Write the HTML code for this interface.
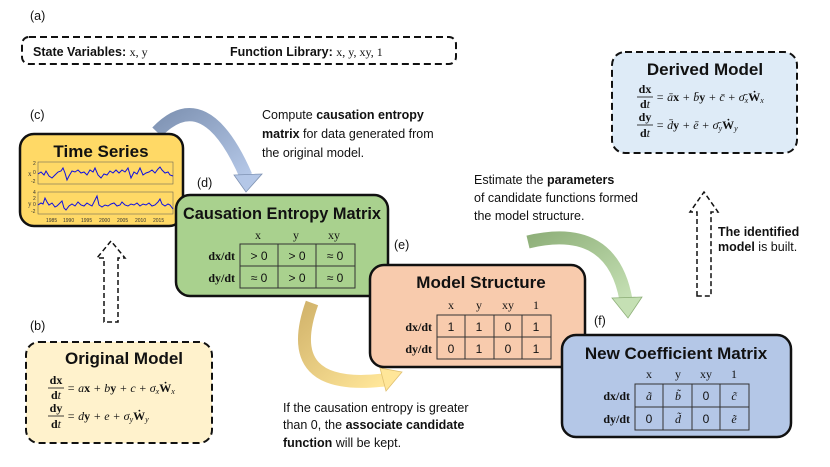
<!DOCTYPE html>
<html><head><meta charset="utf-8"><style>
body{margin:0;background:#fff}
svg{display:block;font-family:"Liberation Sans",sans-serif}
.t{font-size:12.5px;fill:#111}
.h{font-size:17px;font-weight:bold;fill:#111}
.m{font-family:"Liberation Serif",serif;font-size:12px;fill:#111}
.c{font-size:12px;fill:#111;text-anchor:middle}
.mc{font-family:"Liberation Serif",serif;font-size:12px;fill:#111;text-anchor:middle}
</style></head><body>
<svg width="830" height="467" viewBox="0 0 830 467">
<defs>
<linearGradient id="gb" x1="0" y1="0" x2="1" y2="1"><stop offset="0" stop-color="#7f93b3"/><stop offset="1" stop-color="#b4c7e7"/></linearGradient>
<linearGradient id="gg" x1="0" y1="0" x2="1" y2="1"><stop offset="0" stop-color="#8fb07a"/><stop offset="1" stop-color="#c5e0b4"/></linearGradient>
<linearGradient id="gy" x1="0" y1="0" x2="1" y2="1"><stop offset="0" stop-color="#d2b46c"/><stop offset="1" stop-color="#ffe699"/></linearGradient>
</defs>
<text x="30" y="20" class="t">(a)</text>
<rect x="22" y="37" width="434" height="27" rx="7" fill="#fff" stroke="#111" stroke-width="2" stroke-dasharray="7,4"/>
<text x="33" y="56" class="t" font-weight="bold">State Variables: <tspan class="m" font-weight="normal" font-size="13">x, y</tspan></text>
<text x="230" y="56" class="t" font-weight="bold">Function Library: <tspan class="m" font-weight="normal" font-size="13">x, y, xy, 1</tspan></text>

<path d="M157,132 Q205,82 246,176" fill="none" stroke="url(#gb)" stroke-width="13"/>
<polygon points="234,175 262,174 246,192" fill="#b4c7e7" stroke="#7f93b3" stroke-width="0.8"/>
<path d="M528,242 Q612,222 626,300" fill="none" stroke="url(#gg)" stroke-width="13"/>
<polygon points="612,298 642,297 628,318" fill="#c5e0b4" stroke="#8fb07a" stroke-width="0.8"/>
<path d="M312,303 Q280,392 384,380" fill="none" stroke="url(#gy)" stroke-width="13"/>
<polygon points="380,368 402,372 386,391" fill="#ffe699" stroke="#e0c070" stroke-width="0.8"/>

<text x="30" y="119" class="t">(c)</text>
<rect x="20" y="134" width="163" height="92" rx="14" fill="#ffd966" stroke="#111" stroke-width="2.5"/>
<text x="101" y="157" class="h" text-anchor="middle">Time Series</text>
<g font-size="5" fill="#333" font-family="Liberation Sans">
<rect x="38" y="162" width="135" height="22" fill="none" stroke="#555" stroke-width="0.5"/>
<rect x="38" y="192" width="135" height="22" fill="none" stroke="#555" stroke-width="0.5"/>
<text x="28" y="176" font-size="7" font-family="Liberation Serif">x</text>
<text x="28" y="206" font-size="7" font-family="Liberation Serif">y</text>
<text x="33" y="165">2</text><text x="33" y="174">0</text><text x="31" y="183">-2</text>
<text x="33" y="194">4</text><text x="33" y="200">2</text><text x="33" y="206">0</text><text x="31" y="213">-2</text>
<text x="46" y="222">1985</text><text x="63" y="222">1990</text><text x="81" y="222">1995</text><text x="99" y="222">2000</text><text x="117" y="222">2005</text><text x="135" y="222">2010</text><text x="153" y="222">2015</text>
</g>
<polyline fill="none" stroke="#1010e0" stroke-width="1" points="38,174 41,172 44,175 46,171 49,176 52,178 55,175 58,172 61,171 63,168 65,173 67,180 69,176 72,171 75,172 78,170 81,173 84,172 87,175 90,170 93,172 95,168 98,175 101,178 104,174 107,175 110,171 113,173 116,170 119,173 122,170 125,172 128,168 131,178 134,172 137,174 140,168 143,175 146,173 149,172 152,170 155,173 158,169 160,167 162,170 165,173 168,172 170,175 173,176"/>
<polyline fill="none" stroke="#1010e0" stroke-width="1" points="38,205 41,203 43,204 45,198 47,202 49,205 52,203 55,207 57,206 60,203 62,201 64,208 66,210 69,206 72,204 75,206 78,202 81,205 84,206 87,203 90,205 92,206 95,200 97,196 99,205 102,207 105,205 108,206 111,204 114,203 117,206 120,205 122,202 125,205 128,206 131,204 134,205 137,203 140,206 143,204 146,205 149,203 152,206 155,205 158,202 160,199 162,204 165,206 168,204 170,205 173,209"/>

<text x="197" y="187" class="t">(d)</text>
<rect x="176" y="195" width="212" height="101" rx="14" fill="#a9d18e" stroke="#111" stroke-width="2.5"/>
<text x="282" y="219" class="h" text-anchor="middle" font-size="16" textLength="198" lengthAdjust="spacingAndGlyphs">Causation Entropy Matrix</text>
<text x="258" y="239" class="mc">x</text><text x="296" y="239" class="mc">y</text><text x="334" y="239" class="mc">xy</text>
<text x="235" y="260" class="m" text-anchor="end" font-weight="bold">dx/dt</text>
<text x="235" y="282" class="m" text-anchor="end" font-weight="bold">dy/dt</text>
<g fill="none" stroke="#333" stroke-width="1"><rect x="240" y="244" width="115" height="44"/><line x1="240" y1="266" x2="355" y2="266"/><line x1="278" y1="244" x2="278" y2="288"/><line x1="316" y1="244" x2="316" y2="288"/></g>
<text x="259" y="260" class="c">&gt; 0</text><text x="297" y="260" class="c">&gt; 0</text><text x="335" y="260" class="c">≈ 0</text>
<text x="259" y="282" class="c">≈ 0</text><text x="297" y="282" class="c">&gt; 0</text><text x="335" y="282" class="c">≈ 0</text>

<text x="262" y="119" class="t">Compute <tspan font-weight="bold">causation entropy</tspan></text>
<text x="262" y="138" class="t"><tspan font-weight="bold">matrix</tspan> for data generated from</text>
<text x="262" y="157" class="t">the original model.</text>

<text x="474" y="184" class="t">Estimate the <tspan font-weight="bold">parameters</tspan></text>
<text x="474" y="202" class="t">of candidate functions formed</text>
<text x="474" y="220" class="t">the model structure.</text>

<text x="394" y="249" class="t">(e)</text>
<rect x="370" y="265" width="215" height="102" rx="14" fill="#f8cbad" stroke="#111" stroke-width="2.5"/>
<text x="481" y="288" class="h" text-anchor="middle">Model Structure</text>
<text x="451" y="309" class="mc">x</text><text x="479" y="309" class="mc">y</text><text x="508" y="309" class="mc">xy</text><text x="536" y="309" class="mc">1</text>
<text x="432" y="331" class="m" text-anchor="end" font-weight="bold">dx/dt</text>
<text x="432" y="353" class="m" text-anchor="end" font-weight="bold">dy/dt</text>
<g fill="none" stroke="#333" stroke-width="1"><rect x="437" y="315" width="114" height="44"/><line x1="437" y1="337" x2="551" y2="337"/><line x1="465" y1="315" x2="465" y2="359"/><line x1="494" y1="315" x2="494" y2="359"/><line x1="522" y1="315" x2="522" y2="359"/></g>
<text x="451" y="331" class="c">1</text><text x="479" y="331" class="c">1</text><text x="508" y="331" class="c">0</text><text x="536" y="331" class="c">1</text>
<text x="451" y="353" class="c">0</text><text x="479" y="353" class="c">1</text><text x="508" y="353" class="c">0</text><text x="536" y="353" class="c">1</text>

<text x="594" y="325" class="t">(f)</text>
<rect x="562" y="335" width="229" height="102" rx="14" fill="#b4c7e7" stroke="#111" stroke-width="2.5"/>
<text x="676" y="359" class="h" text-anchor="middle">New Coefficient Matrix</text>
<text x="649" y="378" class="mc">x</text><text x="678" y="378" class="mc">y</text><text x="706" y="378" class="mc">xy</text><text x="734" y="378" class="mc">1</text>
<text x="630" y="400" class="m" text-anchor="end" font-weight="bold">dx/dt</text>
<text x="630" y="423" class="m" text-anchor="end" font-weight="bold">dy/dt</text>
<g fill="none" stroke="#333" stroke-width="1"><rect x="635" y="384" width="114" height="46"/><line x1="635" y1="407" x2="749" y2="407"/><line x1="663" y1="384" x2="663" y2="430"/><line x1="692" y1="384" x2="692" y2="430"/><line x1="720" y1="384" x2="720" y2="430"/></g>
<g font-style="italic"><text x="649" y="400" class="mc">ã</text><text x="678" y="400" class="mc">b̃</text><text x="734" y="400" class="mc">c̃</text><text x="678" y="423" class="mc">d̃</text><text x="734" y="423" class="mc">ẽ</text></g>
<text x="706" y="400" class="c">0</text><text x="649" y="423" class="c">0</text><text x="706" y="423" class="c">0</text>

<text x="283" y="412" class="t">If the causation entropy is greater</text>
<text x="283" y="429" class="t">than 0, the <tspan font-weight="bold">associate candidate</tspan></text>
<text x="283" y="447" class="t"><tspan font-weight="bold">function</tspan> will be kept.</text>

<path d="M104,322 L104,258 L97,258 L111,241 L125,258 L118,258 L118,322 Z" fill="none" stroke="#111" stroke-width="1.5" stroke-dasharray="5,3"/>
<path d="M697,296 L697,212 L690,212 L704,192 L718,212 L711,212 L711,296 Z" fill="none" stroke="#111" stroke-width="1.5" stroke-dasharray="5,3"/>
<text x="718" y="236" class="t" font-weight="bold">The identified</text>
<text x="718" y="251" class="t"><tspan font-weight="bold">model</tspan> is built.</text>

<text x="30" y="330" class="t">(b)</text>
<rect x="26" y="342" width="186" height="101" rx="13" fill="#fff2cc" stroke="#111" stroke-width="2" stroke-dasharray="7,4"/>
<text x="124" y="364" class="h" text-anchor="middle">Original Model</text>
<g class="m" font-size="11">
<text x="56" y="384" font-weight="bold" text-anchor="middle">dx</text><line x1="48" y1="388" x2="64" y2="388" stroke="#111" stroke-width="0.8"/><text x="56" y="399" text-anchor="middle"><tspan font-weight="bold">d</tspan><tspan font-style="italic">t</tspan></text>
<text x="67" y="392" font-style="italic">= a<tspan font-weight="bold" font-style="normal">x</tspan> + b<tspan font-weight="bold" font-style="normal">y</tspan> + c + σ<tspan font-size="8" dy="2">x</tspan><tspan dy="-2" font-weight="bold" font-style="normal">Ẇ</tspan><tspan font-size="8" dy="2">x</tspan></text>
<text x="56" y="412" font-weight="bold" text-anchor="middle">dy</text><line x1="48" y1="416" x2="64" y2="416" stroke="#111" stroke-width="0.8"/><text x="56" y="428" text-anchor="middle"><tspan font-weight="bold">d</tspan><tspan font-style="italic">t</tspan></text>
<text x="67" y="420" font-style="italic">= d<tspan font-weight="bold" font-style="normal">y</tspan> + e + σ<tspan font-size="8" dy="2">y</tspan><tspan dy="-2" font-weight="bold" font-style="normal">Ẇ</tspan><tspan font-size="8" dy="2">y</tspan></text>
</g>

<text x="620" y="66" class="t">(g)</text>
<rect x="612" y="52" width="185" height="101" rx="13" fill="#deebf7" stroke="#111" stroke-width="2" stroke-dasharray="7,4"/>
<text x="705" y="75" class="h" text-anchor="middle">Derived Model</text>
<g class="m" font-size="11">
<text x="645" y="93" font-weight="bold" text-anchor="middle">dx</text><line x1="637" y1="97" x2="653" y2="97" stroke="#111" stroke-width="0.8"/><text x="645" y="108" text-anchor="middle"><tspan font-weight="bold">d</tspan><tspan font-style="italic">t</tspan></text>
<text x="656" y="101" font-style="italic">= ā<tspan font-weight="bold" font-style="normal">x</tspan> + b̄<tspan font-weight="bold" font-style="normal">y</tspan> + c̄ + σ̄<tspan font-size="8" dy="2">x</tspan><tspan dy="-2" font-weight="bold" font-style="normal">Ẇ</tspan><tspan font-size="8" dy="2">x</tspan></text>
<text x="645" y="121" font-weight="bold" text-anchor="middle">dy</text><line x1="637" y1="125" x2="653" y2="125" stroke="#111" stroke-width="0.8"/><text x="645" y="137" text-anchor="middle"><tspan font-weight="bold">d</tspan><tspan font-style="italic">t</tspan></text>
<text x="656" y="129" font-style="italic">= d̄<tspan font-weight="bold" font-style="normal">y</tspan> + ē + σ̄<tspan font-size="8" dy="2">y</tspan><tspan dy="-2" font-weight="bold" font-style="normal">Ẇ</tspan><tspan font-size="8" dy="2">y</tspan></text>
</g>
</svg>
</body></html>
